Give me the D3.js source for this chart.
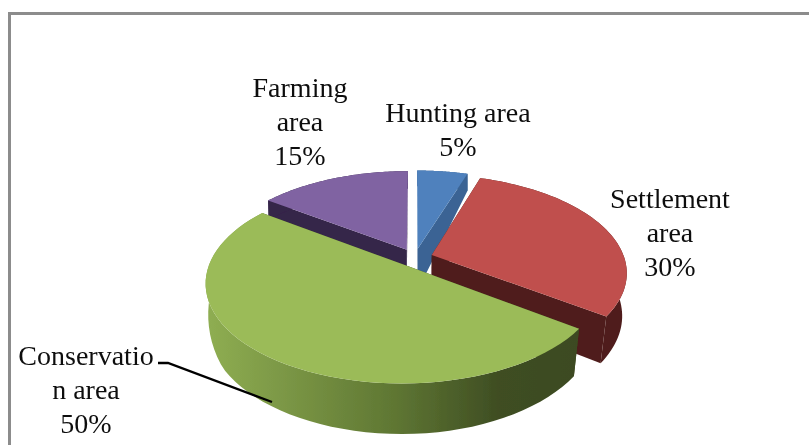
<!DOCTYPE html>
<html><head><meta charset="utf-8">
<script src="https://cdn.jsdelivr.net/npm/d3@7"></script>
<style>html,body{margin:0;padding:0;background:#fff;overflow:hidden}svg{display:block}
text{font-family:"Liberation Serif","Times New Roman",serif;font-size:28px;fill:#111;text-anchor:middle}</style>
</head><body><svg id="c" width="809" height="445"></svg>
<script>
const categories = ["Hunting area","Settlement area","Conservation area","Farming area"];
const values = [5,30,50,15];
const topColors = ["#4f81bd","#c0504d","#9bbb59","#8064a2"];
const sideColors = ["#3a6494","#4f1e1c","url(#greenSide)","#35254a"];
const labelLines = [["Hunting area","5%"],["Settlement","area","30%"],["Conservatio","n area","50%"],["Farming","area","15%"]];
const labelX = [458,670,86,300];
const labelY = [122,208,365,97];
const drawOrder = [0,3,1,2];

const svg = d3.select("#c");
const W=809,H=445;
const cx=414.8, cy=257.6, R=192.5, K=95, P=0.175, EX=0.093;
const dropRight = d3.scaleLinear().domain([-1,0,0.6,1]).range([18,44,47,50]);
const dropLeft = d3.scaleLinear().domain([-1,0,0.6,1]).range([18,21,47,50]);

function project(U,V,bottom){
  const s = 1/(1-P*V);
  let x = U*R*s, y = V*K*s;
  if(bottom){ y += (U<0?dropLeft:dropRight)(V); x -= (U<0?0.01:0.019)*x*(V+1); }
  return [cx+x, cy+y];
}
const defs = svg.append("defs");
const grad = defs.append("linearGradient").attr("id","greenSide").attr("gradientUnits","userSpaceOnUse")
  .attr("x1",206).attr("x2",580).attr("y1",0).attr("y2",0);
[[0,"#8fae52"],[0.2,"#7c9846"],[0.5,"#5f7733"],[0.78,"#3f4e23"],[1,"#3c4a20"]]
  .forEach(d=>grad.append("stop").attr("offset",d[0]).attr("stop-color",d[1]));
const blur = defs.append("filter").attr("id","soft"); blur.append("feGaussianBlur").attr("stdDeviation",0.45);

const root = svg.append("g").attr("filter","url(#soft)");
root.append("path").attr("fill","none").attr("stroke","#8c8c8c").attr("stroke-width",3)
  .attr("d",`M9.5,${H} L9.5,13.5 L${W},13.5`);

const pie = d3.pie().sort(null).value(d=>d)(values);
const line = d3.line();
const angles = (a0,a1)=>d3.range(0,61).map(i=>a0+(a1-a0)*i/60);

drawOrder.forEach(i=>{
  const p = pie[i], mid=(p.startAngle+p.endAngle)/2;
  const ex=EX*Math.sin(mid), ey=-EX*Math.cos(mid);
  const rim=(a)=>[ex+Math.sin(a), ey-Math.cos(a)];
  const arc=angles(p.startAngle,p.endAngle).map(rim);
  const apex=[ex,ey];
  const side=sideColors[i];
  const g=root.append("g");
  [p.startAngle,p.endAngle].forEach(a=>{
    const e=rim(a);
    g.append("path").attr("fill",i===2?"#3c4a20":side).attr("d",
      line([project(...apex),project(...e),project(...e,true),project(...apex,true)])+"Z");
  });
  g.append("path").attr("fill",side).attr("d",
    line([...arc.map(q=>project(...q)),...arc.slice().reverse().map(q=>project(...q,true))])+"Z");
  g.append("path").attr("fill",topColors[i]).attr("d",
    line([project(...apex),...arc.map(q=>project(...q))])+"Z");
});

root.append("path").attr("fill","none").attr("stroke","#000").attr("stroke-width",2.4)
  .attr("d",line([[158,363],[168,363],[272,402]]));

labelLines.forEach((ls,i)=>{
  ls.forEach((t,j)=>root.append("text").attr("x",labelX[i]).attr("y",labelY[i]+j*34).text(t));
});
</script></body></html>
